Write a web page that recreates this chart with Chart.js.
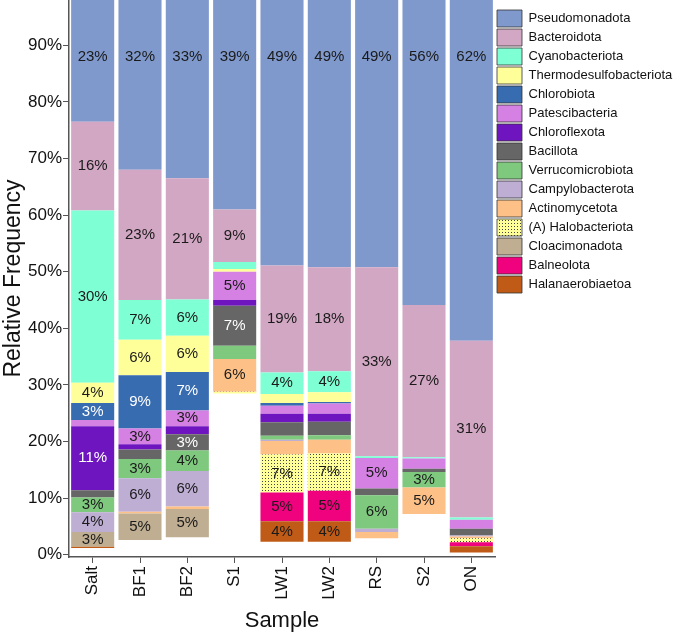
<!DOCTYPE html>
<html>
<head>
<meta charset="utf-8">
<script src="https://cdn.jsdelivr.net/npm/chart.js@4.4.1/dist/chart.umd.min.js"></script>
<style>
    body { margin: 0; background: #fff; }
    #wrap { width: 677px; height: 636px; }
</style>
</head>
<body>
<div id="wrap"><canvas id="chart" width="677" height="636"></canvas></div>
<script>
const samples = ["Salt", "BF1", "BF2", "S1", "LW1", "LW2", "RS", "S2", "ON"];

// relative frequency (%) per phylum, stacked bottom to top
const other             = [1.2, 2.6, 3.1, 28.5, 2.3, 2.3, 2.9, 7.2, 0.4];
const halanaerobiaetoa  = [0.2, 0, 0, 0, 3.6, 3.6, 0, 0, 1.1];
const balneolota        = [0, 0, 0, 0, 5.1, 5.4, 0, 0, 0.7];
const cloacimonadota    = [2.6, 4.7, 5.0, 0, 0, 0, 0, 0, 0];
const halobacteriota    = [0, 0, 0, 0.3, 6.7, 6.6, 0, 0, 0.7];
const actinomycetota    = [0, 0.3, 0.4, 5.8, 2.4, 2.4, 1.1, 4.7, 0.3];
const campylobacterota  = [3.5, 5.9, 6.3, 0, 0.2, 0, 0.6, 0, 0.2];
const verrucomicrobiota = [2.6, 3.4, 3.6, 2.3, 0.7, 0.8, 5.9, 2.7, 0];
const bacillota         = [1.3, 1.7, 2.9, 7.1, 2.4, 2.4, 1.2, 0.6, 1.2];
const chloroflexota     = [11.3, 0.9, 1.4, 1.0, 1.5, 1.4, 0, 0, 0];
const patescibacteria   = [1.1, 2.8, 2.8, 5.0, 1.4, 1.8, 5.4, 1.8, 1.6];
const chlorobiota       = [3.0, 9.4, 6.8, 0, 0.5, 0.3, 0, 0, 0];
const thermodesulfo     = [3.6, 6.3, 6.4, 0.5, 1.6, 1.7, 0, 0, 0];
const cyanobacteriota   = [30.4, 7.0, 6.4, 1.2, 3.8, 3.7, 0.3, 0.2, 0.4];
const bacteroidota      = [15.7, 23.0, 21.4, 9.3, 18.9, 18.4, 33.4, 26.9, 31.2];
const pseudomonadota    = [23.4, 32.1, 33.4, 39.0, 49.0, 49.0, 49.0, 56.0, 62.0];

const ctx = document.getElementById("chart").getContext("2d");

// yellow with dark dots for (A) Halobacteriota
function dotPattern() {
    const c = document.createElement("canvas");
    c.width = 3; c.height = 3;
    const g = c.getContext("2d");
    g.fillStyle = "#ffff99"; g.fillRect(0, 0, 3, 3);
    g.fillStyle = "#444"; g.fillRect(1, 1, 1, 1);
    return ctx.createPattern(c, "repeat");
}

const series = [
    { label: "Other",                   data: other,             color: "rgba(0,0,0,0)" },
    { label: "Halanaerobiaetoa",        data: halanaerobiaetoa,  color: "#bf5b17" },
    { label: "Balneolota",              data: balneolota,        color: "#f0027f" },
    { label: "Cloacimonadota",          data: cloacimonadota,    color: "#bfae92" },
    { label: "(A) Halobacteriota",      data: halobacteriota,    color: dotPattern() },
    { label: "Actinomycetota",          data: actinomycetota,    color: "#fdc086" },
    { label: "Campylobacterota",        data: campylobacterota,  color: "#beaed4" },
    { label: "Verrucomicrobiota",       data: verrucomicrobiota, color: "#7fc97f" },
    { label: "Bacillota",               data: bacillota,         color: "#666666", text: "#fff" },
    { label: "Chloroflexota",           data: chloroflexota,     color: "#6f15bf", text: "#fff" },
    { label: "Patescibacteria",         data: patescibacteria,   color: "#d580e3" },
    { label: "Chlorobiota",             data: chlorobiota,       color: "#386cb0", text: "#fff" },
    { label: "Thermodesulfobacteriota", data: thermodesulfo,     color: "#ffff99" },
    { label: "Cyanobacteriota",         data: cyanobacteriota,   color: "#7fffd4" },
    { label: "Bacteroidota",            data: bacteroidota,      color: "#d2a7c3" },
    { label: "Pseudomonadota",          data: pseudomonadota,    color: "#7f99cc" }
];

const FONT = "'Liberation Sans', Arial, sans-serif";

// percent text inside the bigger segments
const segmentLabels = {
    id: "segmentLabels",
    afterDatasetsDraw(chart) {
        const c = chart.ctx;
        const last = chart.data.datasets.length - 1;
        c.save();
        c.font = "15px " + FONT;
        c.textAlign = "center";
        c.textBaseline = "middle";
        chart.data.datasets.forEach((ds, i) => {
            if (i === 0) return;
            chart.getDatasetMeta(i).data.forEach((bar, j) => {
                const v = ds.data[j];
                if (v < 2.5) return;
                const y = i === last ? chart.scales.y.getPixelForValue(88) : (bar.y + bar.base) / 2;
                c.fillStyle = ds.textColor || "#1a1a1a";
                c.fillText(Math.round(v) + "%", bar.x, y);
            });
        });
        c.restore();
    }
};

new Chart(ctx, {
    type: "bar",
    data: {
        labels: samples,
        datasets: series.map(s => ({
            label: s.label,
            data: s.data,
            backgroundColor: s.color,
            textColor: s.text,
            borderWidth: 0,
            barPercentage: 0.91,
            categoryPercentage: 1
        }))
    },
    options: {
        responsive: false,
        animation: false,
        layout: { padding: 0 },
        plugins: {
            tooltip: { enabled: false },
            legend: {
                position: "right",
                align: "start",
                reverse: true,
                maxWidth: 182,
                title: { display: true, text: "", font: { size: 1, lineHeight: 1 }, padding: { top: 0, bottom: 7 } },
                labels: {
                    boxWidth: 25, boxHeight: 17, padding: 2,
                    color: "#111", font: { family: FONT, size: 13 },
                    filter: item => item.text !== "Other",
                    generateLabels: chart => Chart.defaults.plugins.legend.labels.generateLabels(chart)
                        .map(it => Object.assign(it, { strokeStyle: "#333", lineWidth: 0.8 }))
                }
            }
        },
        scales: {
            x: {
                stacked: true,
                offset: true,
                afterFit: s => { s.height = 79; s.paddingLeft = 0; s.paddingRight = 0; },
                grid: { drawOnChartArea: false, offset: false, tickLength: 6, color: "#555" },
                border: { color: "#555", width: 1.5 },
                ticks: { minRotation: 90, maxRotation: 90, padding: 3, color: "#111", font: { family: FONT, size: 17 } },
                title: { display: true, text: "Sample", color: "#111", font: { family: FONT, size: 22 }, padding: { top: 2, bottom: 2 } }
            },
            y: {
                stacked: true,
                min: -0.4,
                max: 98,
                afterFit: s => { s.width = 69; s.paddingTop = 0; s.paddingBottom = 0; },
                grid: { drawOnChartArea: false, tickLength: 6, color: "#555" },
                border: { color: "#555", width: 1.5 },
                ticks: { stepSize: 10, includeBounds: false, padding: 1, color: "#111", font: { family: FONT, size: 17 }, callback: v => v + "%" },
                title: { display: true, text: "Relative Frequency", color: "#111", font: { family: FONT, size: 23 }, padding: { top: 0, bottom: 0 } }
            }
        }
    },
    plugins: [segmentLabels]
});
</script>
</body>
</html>
